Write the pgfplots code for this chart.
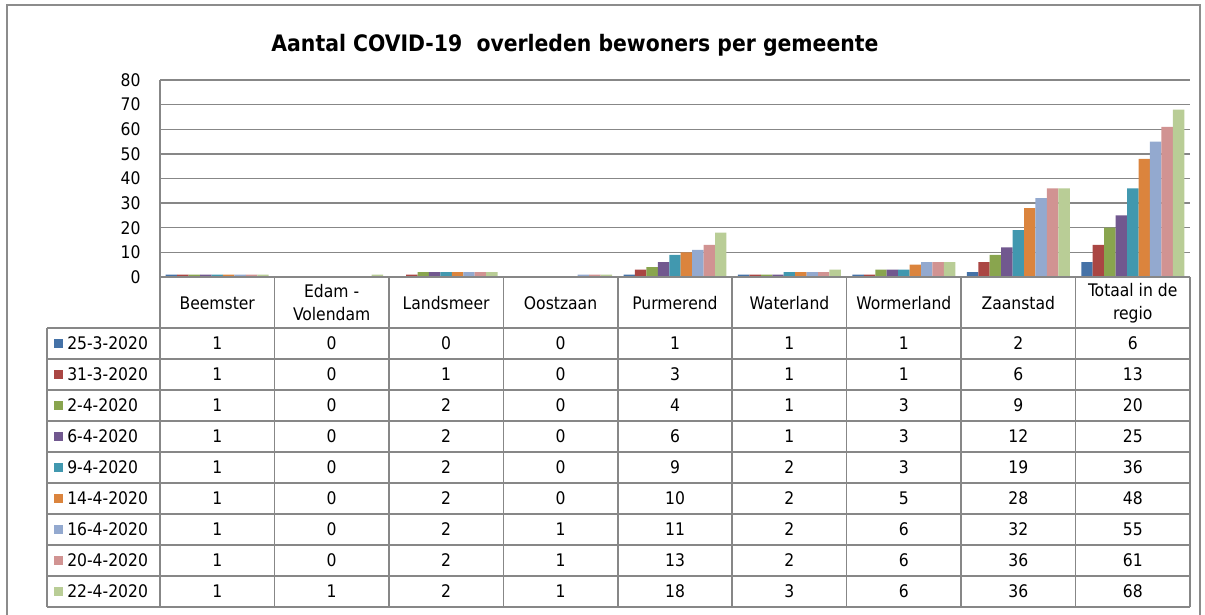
\documentclass[border=0pt]{standalone}
\usepackage{pgfplots}
\pgfplotsset{compat=1.18}
\usepackage{pgfplotstable}
\usepackage{fontspec}
\setmainfont{DejaVu Sans Condensed}
\definecolor{c1}{HTML}{4572A7}
\definecolor{c2}{HTML}{AA4643}
\definecolor{c3}{HTML}{89A54E}
\definecolor{c4}{HTML}{71588F}
\definecolor{c5}{HTML}{4198AF}
\definecolor{c6}{HTML}{DB843D}
\definecolor{c7}{HTML}{93A9CF}
\definecolor{c8}{HTML}{D19392}
\definecolor{c9}{HTML}{B9CD96}
\definecolor{gridgray}{HTML}{878787}
\definecolor{framegray}{HTML}{8C8C8C}

\pgfplotstableread{
x b1 b2 b3 b4 b5 b6 b7 b8 b9
0 1 1 1 1 1 1 1 1 1
1 0 0 0 0 0 0 0 0 1
2 0 1 2 2 2 2 2 2 2
3 0 0 0 0 0 0 1 1 1
4 1 3 4 6 9 10 11 13 18
5 1 1 1 1 2 2 2 2 3
6 1 1 3 3 3 5 6 6 6
7 2 6 9 12 19 28 32 36 36
8 6 13 20 25 36 48 55 61 68
}\data

\begin{document}
\begin{tikzpicture}[x=0.75pt,y=0.75pt]
\useasboundingbox (0,0) rectangle (1205,614);
\coordinate (O) at (160,337);
\draw[framegray, line width=1pt] (7,-10) -- (7,609) -- (1200,609) -- (1200,-10);
\node[font=\bfseries\fontsize{17}{20}\selectfont] at (575,569) {Aantal COVID-19\ \ overleden bewoners per gemeente};
\begin{axis}[
  at={(O)}, anchor=south west, scale only axis,
  width=772.5pt, height=147.75pt,
  xmin=-0.5, xmax=8.5, ymin=0, ymax=80,
  enlargelimits=false,
  ytick={0,10,...,80}, xtick=\empty,
  axis x line=none, axis y line=left,
  y axis line style={-, draw=gridgray, line width=1.1pt},
  ymajorgrids, grid style={draw=gridgray, line width=1.1pt},
  ytick style={draw=none},
  yticklabel style={font=\fontsize{13}{16}\selectfont, xshift=-9pt},
  /pgf/number format/assume math mode=true,
  ybar=0pt, bar width=8.58pt,
  every axis plot/.append style={draw=none},
]
\addplot[fill=c1] table[x=x,y=b1]{\data};
\addplot[fill=c2] table[x=x,y=b2]{\data};
\addplot[fill=c3] table[x=x,y=b3]{\data};
\addplot[fill=c4] table[x=x,y=b4]{\data};
\addplot[fill=c5] table[x=x,y=b5]{\data};
\addplot[fill=c6] table[x=x,y=b6]{\data};
\addplot[fill=c7] table[x=x,y=b7]{\data};
\addplot[fill=c8] table[x=x,y=b8]{\data};
\addplot[fill=c9] table[x=x,y=b9]{\data};
\end{axis}
% data table grid
\begin{scope}[gridgray, line width=1.1pt]
\draw (160,337) -- (1190,337);
\foreach \k in {0,...,9} \draw ({160+114.444*\k},337) -- ({160+114.444*\k},7);
\draw (47,286) -- (47,7);
\foreach \r in {0,...,9} \draw (47,{286-31*\r}) -- (1190,{286-31*\r});
\end{scope}
% header
\foreach \c [count=\j from 0] in {Beemster,{Edam -\\Volendam},Landsmeer,Oostzaan,Purmerend,Waterland,Wormerland,Zaanstad,{Totaal in de\\regio}}
  \node[font=\fontsize{13}{17.3}\selectfont, align=center] at ({160+114.444*(\j+0.5)},311) {\c};
% legend column
\foreach \d [count=\i] in {25-3-2020,31-3-2020,2-4-2020,6-4-2020,9-4-2020,14-4-2020,16-4-2020,20-4-2020,22-4-2020}{
  \fill[c\i] (54,{286-31*(\i-1)-15.5-4.5}) rectangle (63,{286-31*(\i-1)-15.5+4.5});
  \node[font=\fontsize{13}{16}\selectfont, anchor=west, inner sep=0pt] at (67,{286-31*(\i-1)-15.5}) {\d};
}
% values
\foreach \j in {0,...,8}{
  \foreach \i in {1,...,9}{
    \pgfplotstablegetelem{\j}{b\i}\of\data
    \node[font=\fontsize{13}{16}\selectfont] at ({160+114.444*(\j+0.5)},{286-31*(\i-1)-15.5}) {\pgfplotsretval};
  }
}
\end{tikzpicture}
\end{document}
